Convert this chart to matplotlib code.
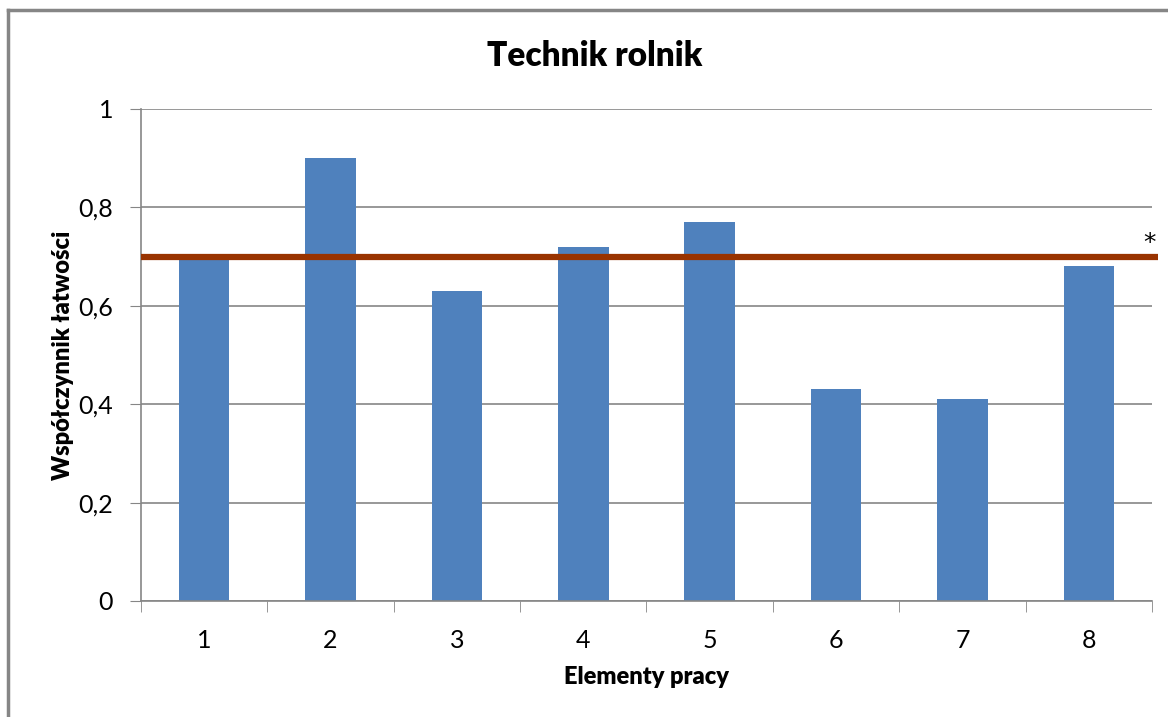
import matplotlib.pyplot as plt

plt.rcParams['font.family'] = ['Lato', 'DejaVu Sans']

elements = ["1", "2", "3", "4", "5", "6", "7", "8"]
values = [0.70, 0.90, 0.63, 0.72, 0.77, 0.43, 0.41, 0.68]
threshold = 0.7
y_ticks = [0, 0.2, 0.4, 0.6, 0.8, 1.0]
y_labels = ["0", "0,2", "0,4", "0,6", "0,8", "1"]

fig = plt.figure(figsize=(11.68, 7.17), dpi=100)
ax = fig.add_axes([0.1207, 0.1618, 0.8656, 0.6862])

# outer chart frame (only left and top edges visible)
fig.add_artist(plt.Line2D([8/1168, 8/1168], [0, 1 - 10/717], color="#868686", lw=2.5,
                          transform=fig.transFigure))
fig.add_artist(plt.Line2D([8/1168, 1], [1 - 10/717, 1 - 10/717], color="#868686", lw=2.5,
                          transform=fig.transFigure))

x = list(range(len(elements)))
ax.bar(x, values, width=0.4, color="#4F81BD", zorder=2)

# threshold line, runs a bit past the plot area
ax.plot([-0.5, 7.545], [threshold, threshold], color="#993300", lw=4.5, zorder=3,
        clip_on=False, solid_capstyle="butt")
ax.text(7.48, threshold + 0.004, "*", fontsize=18, ha="center", va="bottom", family="DejaVu Sans")

ax.set_xlim(-0.5, 7.5)
ax.set_ylim(0, 1)
ax.set_yticks(y_ticks)
ax.set_yticklabels(y_labels)
ax.set_xticks(x)
ax.set_xticklabels(elements)
ax.set_xticks([i + 0.5 for i in range(-1, 8)], minor=True)
ax.tick_params(axis="x", which="major", length=0, pad=20, labelsize=18)
ax.tick_params(axis="x", which="minor", length=8, color="#868686", direction="out")
ax.tick_params(axis="y", length=8, color="#868686", direction="out", pad=12, labelsize=18)

ax.grid(axis="y", color="#868686", lw=1.2, zorder=0)
for s in ["top", "right"]:
    ax.spines[s].set_visible(False)
for s in ["left", "bottom"]:
    ax.spines[s].set_color("#868686")
    ax.spines[s].set_linewidth(1.2)

fig.text(595/1168, 1 - 56/717, "Technik rolnik", fontsize=24, fontweight="heavy",
         ha="center", va="center")
ax.set_xlabel("Elementy pracy", fontsize=17, fontweight="heavy", labelpad=10)
ax.set_ylabel("Współczynnik łatwości", fontsize=17, fontweight="heavy", labelpad=3)

fig.savefig("out.png", dpi=100)
